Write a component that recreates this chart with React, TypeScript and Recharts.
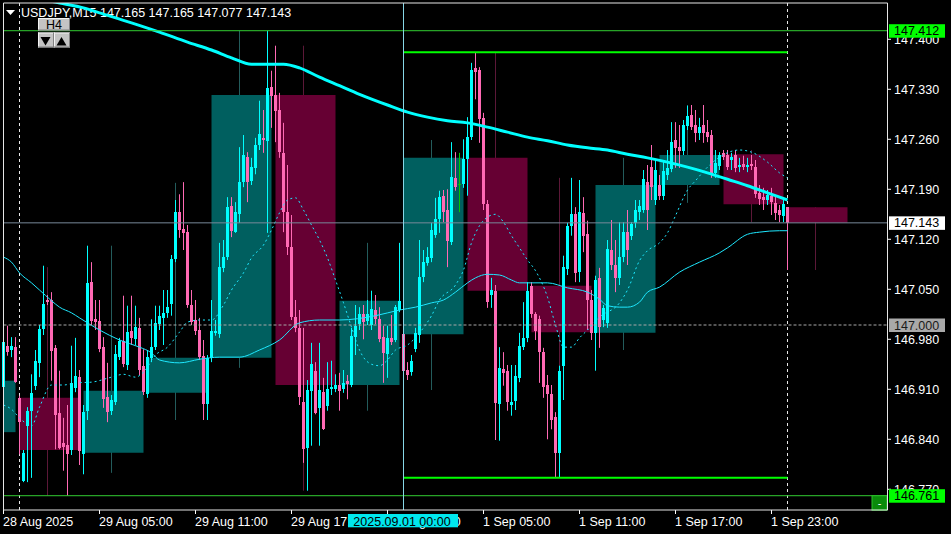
import React from 'react';
import { ComposedChart, Bar, Line, XAxis, YAxis, ReferenceArea, ReferenceLine } from 'recharts';

// M15 candles, bar 0 = 28 Aug 23:00 (broker time)
const opens = [
  146.913, 146.971, 146.965, 146.969, 146.898, 146.782, 146.859, 146.880, 146.915, 146.947,
  146.994, 147.035, 147.035, 146.968, 146.877, 146.835, 146.832, 146.825, 146.912, 146.927,
  146.819, 146.880, 147.060, 147.008, 147.006, 146.969, 146.899, 146.880, 146.892, 146.955,
  146.978, 146.944, 146.992, 146.980, 146.996, 146.943, 146.903, 146.954, 146.969, 147.001,
  147.010, 147.017, 147.029, 147.092, 147.158, 147.134, 147.130, 147.028, 147.007, 146.993,
  146.957, 146.889, 146.954, 146.989, 146.987, 147.080, 147.095, 147.167, 147.130, 147.155,
  147.200, 147.235, 147.202, 147.220, 147.252, 147.262, 147.258, 147.333, 147.322, 147.301,
  147.241, 147.158, 147.109, 147.011, 146.996, 146.892, 146.828, 146.908, 146.936, 146.884,
  146.906, 146.887, 146.910, 146.910, 146.916, 146.910, 146.922, 146.916, 146.983, 147.001,
  147.015, 147.006, 147.000, 147.021, 147.008, 146.983, 146.959, 146.982, 146.979, 147.021,
  146.987, 146.937, 146.934, 146.966, 146.986, 147.067, 147.087, 147.094, 147.126, 147.148,
  147.181, 147.161, 147.116, 147.206, 147.197, 147.197, 147.232, 147.263, 147.360, 147.357,
  147.290, 147.169, 147.042, 147.048, 146.889, 146.938, 146.936, 146.888, 146.894, 146.926,
  146.969, 146.982, 147.055, 147.015, 147.008, 146.962, 146.916, 146.903, 146.871, 146.821,
  146.943, 147.078, 147.139, 147.155, 147.074, 147.157, 147.127, 147.035, 146.989, 147.066,
  147.007, 147.003, 147.105, 147.084, 147.066, 147.095, 147.130, 147.125, 147.143, 147.158,
  147.161, 147.200, 147.221, 147.175, 147.196, 147.181, 147.210, 147.218, 147.259, 147.249,
  147.244, 147.279, 147.294, 147.280, 147.269, 147.280, 147.270, 147.266, 147.213, 147.223,
  147.241, 147.238, 147.231, 147.238, 147.221, 147.225, 147.221, 147.225, 147.221, 147.185,
  147.179, 147.175, 147.181, 147.171, 147.161, 147.153, 147.165,
];
const highs = [
  146.982, 146.999, 146.983, 146.983, 146.901, 146.825, 146.885, 146.931, 146.965, 147.000,
  147.083, 147.042, 147.046, 146.972, 146.936, 146.870, 146.888, 146.971, 146.982, 146.937,
  146.888, 147.111, 147.088, 147.035, 147.035, 146.983, 146.947, 146.902, 146.972, 146.982,
  147.041, 147.027, 147.041, 147.027, 147.010, 146.966, 146.965, 147.008, 147.027, 147.027,
  147.049, 147.049, 147.098, 147.175, 147.183, 147.200, 147.140, 147.049, 147.035, 147.010,
  146.979, 146.958, 147.035, 147.007, 147.115, 147.119, 147.179, 147.179, 147.172, 147.249,
  147.266, 147.242, 147.234, 147.262, 147.314, 147.301, 147.412, 147.356, 147.391, 147.325,
  147.283, 147.224, 147.154, 147.035, 147.021, 146.996, 146.923, 146.975, 146.948, 146.975,
  146.926, 146.948, 146.950, 146.931, 146.933, 146.937, 146.930, 146.996, 147.028, 147.025,
  147.028, 147.035, 147.048, 147.042, 147.025, 146.999, 146.999, 147.014, 147.028, 147.115,
  146.993, 146.948, 146.958, 146.996, 147.119, 147.105, 147.109, 147.143, 147.178, 147.188,
  147.189, 147.190, 147.256, 147.242, 147.241, 147.260, 147.291, 147.367, 147.382, 147.361,
  147.297, 147.175, 147.066, 147.056, 146.969, 146.962, 146.944, 146.944, 146.944, 146.989,
  147.032, 147.060, 147.060, 147.018, 147.013, 146.968, 146.930, 146.916, 146.878, 146.943,
  147.097, 147.143, 147.206, 147.165, 147.203, 147.179, 147.146, 147.049, 147.069, 147.080,
  147.028, 147.119, 147.147, 147.119, 147.144, 147.144, 147.161, 147.144, 147.175, 147.175,
  147.217, 147.224, 147.252, 147.231, 147.210, 147.231, 147.245, 147.284, 147.284, 147.280,
  147.287, 147.307, 147.308, 147.301, 147.290, 147.308, 147.287, 147.273, 147.245, 147.242,
  147.245, 147.245, 147.241, 147.245, 147.234, 147.237, 147.234, 147.238, 147.231, 147.196,
  147.192, 147.189, 147.192, 147.181, 147.168, 147.175, 147.165,
];
const lows = [
  146.906, 146.957, 146.955, 146.919, 146.819, 146.780, 146.780, 146.786, 146.909, 146.927,
  146.986, 147.028, 146.922, 146.826, 146.826, 146.796, 146.761, 146.818, 146.906, 146.804,
  146.791, 146.867, 147.000, 146.993, 146.962, 146.884, 146.864, 146.874, 146.888, 146.951,
  146.941, 146.937, 146.972, 146.972, 146.930, 146.902, 146.898, 146.948, 146.965, 146.993,
  146.972, 147.010, 147.013, 147.088, 147.122, 147.105, 147.024, 147.000, 146.986, 146.951,
  146.867, 146.867, 146.948, 146.985, 146.982, 147.074, 147.091, 147.123, 147.129, 147.143,
  147.193, 147.172, 147.196, 147.211, 147.245, 147.241, 147.129, 147.276, 147.256, 147.234,
  147.130, 147.098, 147.007, 146.990, 146.888, 146.807, 146.768, 146.831, 146.875, 146.831,
  146.853, 146.880, 146.902, 146.906, 146.880, 146.905, 146.896, 146.913, 146.958, 146.993,
  146.980, 147.000, 146.993, 147.001, 146.976, 146.919, 146.926, 146.972, 146.976, 147.018,
  146.909, 146.923, 146.929, 146.962, 146.975, 147.060, 147.083, 147.088, 147.122, 147.129,
  147.144, 147.081, 147.112, 147.188, 147.158, 147.192, 147.181, 147.259, 147.316, 147.255,
  147.161, 147.024, 147.024, 146.839, 146.838, 146.915, 146.880, 146.873, 146.881, 146.920,
  146.965, 146.976, 147.010, 146.979, 146.919, 146.898, 146.840, 146.854, 146.786, 146.787,
  146.895, 147.070, 147.125, 147.060, 147.060, 147.102, 146.993, 146.979, 146.936, 146.968,
  146.997, 146.996, 147.077, 147.046, 147.056, 147.088, 147.084, 147.119, 147.136, 147.147,
  147.157, 147.133, 147.175, 147.168, 147.175, 147.175, 147.203, 147.214, 147.220, 147.220,
  147.238, 147.273, 147.273, 147.256, 147.259, 147.255, 147.256, 147.206, 147.206, 147.217,
  147.231, 147.217, 147.217, 147.214, 147.214, 147.217, 147.214, 147.217, 147.178, 147.168,
  147.161, 147.168, 147.154, 147.147, 147.144, 147.144, 147.077,
];
const closes = [
  146.976, 146.962, 146.971, 146.920, 146.864, 146.821, 146.880, 146.905, 146.950, 146.994,
  147.029, 147.032, 146.964, 146.874, 146.828, 146.829, 146.819, 146.919, 146.929, 146.824,
  146.878, 147.059, 147.006, 147.004, 146.966, 146.896, 146.878, 146.895, 146.959, 146.978,
  146.945, 146.990, 146.982, 146.997, 146.937, 146.906, 146.955, 146.969, 147.003, 147.013,
  147.017, 147.025, 147.092, 147.158, 147.133, 147.129, 147.028, 147.004, 146.992, 146.955,
  146.889, 146.954, 146.992, 146.992, 147.081, 147.095, 147.165, 147.132, 147.158, 147.200,
  147.238, 147.200, 147.221, 147.252, 147.267, 147.259, 147.332, 147.321, 147.300, 147.242,
  147.158, 147.109, 147.011, 146.996, 146.899, 146.826, 146.909, 146.945, 146.877, 146.909,
  146.854, 146.910, 146.913, 146.916, 146.908, 146.919, 146.917, 146.985, 146.999, 147.015,
  147.004, 147.015, 147.022, 147.008, 146.980, 146.961, 146.982, 146.976, 147.025, 147.034,
  146.936, 146.930, 146.950, 146.989, 147.067, 147.088, 147.095, 147.133, 147.148, 147.179,
  147.158, 147.118, 147.207, 147.193, 147.197, 147.232, 147.263, 147.357, 147.354, 147.288,
  147.169, 147.032, 147.049, 146.891, 146.940, 146.933, 146.892, 146.892, 146.929, 146.971,
  146.982, 147.048, 147.015, 146.992, 146.962, 146.913, 146.903, 146.867, 146.821, 146.936,
  147.081, 147.139, 147.155, 147.073, 147.158, 147.125, 147.035, 146.989, 147.063, 146.997,
  147.024, 147.106, 147.084, 147.066, 147.095, 147.130, 147.105, 147.141, 147.161, 147.167,
  147.204, 147.161, 147.193, 147.217, 147.181, 147.216, 147.220, 147.256, 147.248, 147.244,
  147.280, 147.293, 147.277, 147.269, 147.277, 147.269, 147.263, 147.213, 147.227, 147.238,
  147.235, 147.221, 147.235, 147.220, 147.224, 147.221, 147.224, 147.223, 147.183, 147.176,
  147.175, 147.182, 147.172, 147.157, 147.154, 147.169, 147.143,
];

// moving averages (bar index / price)
const maSlowIdx = [0, 13, 20, 24, 32, 39, 46, 52, 57, 62, 66, 70, 74, 79, 84, 89, 96, 101, 106, 111, 116, 121, 126, 131, 136, 141, 146, 151, 156, 161, 166, 171, 176, 181, 186, 191, 196];
const maSlowVal = [147.469, 147.452, 147.444, 147.437, 147.423, 147.410, 147.396, 147.385, 147.374, 147.365, 147.365, 147.365, 147.360, 147.347, 147.335, 147.323, 147.308, 147.298, 147.291, 147.286, 147.283, 147.277, 147.270, 147.263, 147.258, 147.252, 147.248, 147.245, 147.239, 147.234, 147.228, 147.221, 147.213, 147.204, 147.195, 147.185, 147.175];

const maMidIdx = [0, 2, 4, 7, 9, 12, 14, 17, 19, 24, 29, 34, 37, 39, 44, 49, 54, 59, 64, 69, 74, 79, 84, 93, 99, 103, 107, 110, 113, 116, 118, 121, 124, 127, 129, 132, 136, 141, 146, 149, 151, 154, 156, 159, 161, 164, 169, 174, 179, 181, 186, 189, 194, 196];
const maMidVal = [147.095, 147.088, 147.073, 147.059, 147.049, 147.034, 147.025, 147.017, 147.010, 146.993, 146.979, 146.969, 146.961, 146.951, 146.947, 146.952, 146.955, 146.955, 146.965, 146.979, 147.003, 147.007, 147.007, 147.013, 147.021, 147.025, 147.031, 147.035, 147.046, 147.059, 147.066, 147.071, 147.070, 147.063, 147.059, 147.059, 147.059, 147.052, 147.046, 147.036, 147.027, 147.025, 147.025, 147.032, 147.046, 147.053, 147.074, 147.088, 147.101, 147.108, 147.127, 147.130, 147.132, 147.132];

const maFastIdx = [0, 2, 4, 7, 9, 12, 15, 18, 22, 27, 30, 33, 35, 38, 41, 44, 46, 49, 52, 55, 57, 60, 62, 65, 67, 69, 71, 73, 75, 77, 79, 81, 83, 85, 87, 89, 92, 94, 96, 98, 101, 104, 107, 109, 113, 115, 117, 119, 121, 123, 125, 127, 129, 131, 133, 136, 138, 140, 142, 144, 146, 149, 154, 156, 159, 161, 164, 166, 168, 171, 173, 176, 179, 184, 187, 191, 194, 196];
const maFastVal = [146.888, 146.882, 146.870, 146.859, 146.885, 146.916, 146.916, 146.919, 146.920, 146.927, 146.931, 146.927, 146.934, 146.958, 146.969, 146.990, 147.004, 147.007, 147.007, 147.028, 147.049, 147.073, 147.094, 147.112, 147.133, 147.157, 147.175, 147.178, 147.161, 147.140, 147.119, 147.094, 147.063, 147.031, 146.997, 146.965, 146.945, 146.943, 146.951, 146.965, 146.972, 146.989, 147.013, 147.035, 147.056, 147.077, 147.115, 147.139, 147.151, 147.155, 147.144, 147.125, 147.108, 147.091, 147.076, 147.039, 147.000, 146.969, 146.969, 146.982, 146.993, 147.011, 147.031, 147.049, 147.090, 147.104, 147.115, 147.129, 147.153, 147.189, 147.202, 147.221, 147.235, 147.245, 147.242, 147.228, 147.213, 147.206];

// H4 candles drawn behind the M15 bars (first M15 bar index of each)
const h4Start = [-12, 4, 20, 36, 52, 68, 84, 100, 116, 132, 148, 164, 180, 196];
const h4Open = [146.850, 146.898, 146.821, 146.905, 146.954, 147.322, 146.916, 146.987, 147.234, 147.055, 146.989, 147.196, 147.239, 147.165];
const h4High = [146.990, 147.081, 147.111, 147.199, 147.412, 147.391, 147.115, 147.259, 147.382, 147.206, 147.234, 147.308, 147.245, 147.165];
const h4Low = [146.780, 146.761, 146.793, 146.867, 146.940, 146.768, 146.880, 146.909, 146.839, 146.786, 146.965, 147.171, 147.144, 147.077];
const h4Close = [146.922, 146.825, 146.908, 146.954, 147.322, 146.916, 147.034, 147.234, 147.048, 146.990, 147.196, 147.238, 147.169, 147.143];

const timeTickIdx = [0, 24, 48, 72, 96, 120, 144, 168, 192];
const timeTickLabels = ['28 Aug 2025', '29 Aug 05:00', '29 Aug 11:00', '29 Aug 17:00', '29 Aug 23:00', '1 Sep 05:00', '1 Sep 11:00', '1 Sep 17:00', '1 Sep 23:00'];
const priceTicks = [147.4, 147.33, 147.26, 147.19, 147.12, 147.05, 146.98, 146.91, 146.84, 146.77];

const titleText = 'USDJPY,M15 147.165 147.165 147.077 147.143';
const weekHigh = 147.412;
const weekLow = 146.761;
const dayHigh = 147.382;
const dayLow = 146.786;
const roundLevel = 147.0;
const lastPrice = 147.143;
const dayStartIdx = 100;
const dayEndIdx = 196;
const daySepIdx = [4, 196];
const vlineLabel = '2025.09.01 00:00';

const SLOTS = 222;
const Y_MIN = 146.741;
const Y_MAX = 147.4508;
const FONT = '"Liberation Sans", Arial, sans-serif';
const BULL = '#00ffff';
const BEAR = '#ff69b4';
const DOJI = '#00c800';

type Row = { i: number; o?: number; h?: number; l?: number; c?: number; maSlow?: number; maMid?: number; maFast?: number };
const rows: Row[] = Array.from({ length: SLOTS }, (_, i) => ({ i, o: opens[i], h: highs[i], l: lows[i], c: closes[i] }));
maSlowIdx.forEach((k, j) => { rows[k].maSlow = maSlowVal[j]; });
maMidIdx.forEach((k, j) => { rows[k].maMid = maMidVal[j]; });
maFastIdx.forEach((k, j) => { rows[k].maFast = maFastVal[j]; });

function Candle(props: any) {
  const { x, y, width, height, payload } = props;
  if (!payload || payload.h == null || !Number.isFinite(y) || !Number.isFinite(height)) return null;
  const { o, h, l, c } = payload;
  const k = h > l ? height / (h - l) : 0;
  const py = (v: number) => y + (h - v) * k;
  const color = c > o ? BULL : c < o ? BEAR : DOJI;
  const cx = Math.round(x + width / 2 - 0.5) + 0.5;
  const top = py(Math.max(o, c));
  const bot = py(Math.min(o, c));
  return (
    <g>
      <line x1={cx} x2={cx} y1={y} y2={y + height} stroke={color} strokeWidth={1} />
      <rect x={cx - 1.5} y={top} width={3} height={Math.max(1, bot - top)} fill={color} shapeRendering="crispEdges" />
    </g>
  );
}

// axis labels are drawn as reference-line labels so the price/time tags can sit on top of them
function PriceTickMark(props: any) {
  const { viewBox, value } = props;
  if (!viewBox) return null;
  const xr = viewBox.x + viewBox.width;
  const y = viewBox.y;
  return (
    <g>
      <line x1={xr} x2={xr + 3.5} y1={y} y2={y} stroke="#fff" />
      <text x={xr + 6.5} y={y + 4.5} fill="#fff" fontSize={12.5} fontFamily={FONT}>{value.toFixed(3)}</text>
    </g>
  );
}

function TimeTickMark(props: any) {
  const { viewBox, text } = props;
  if (!viewBox) return null;
  const x = viewBox.x;
  const bottom = viewBox.y + viewBox.height;
  return (
    <g>
      <line x1={x} x2={x} y1={bottom} y2={bottom + 4} stroke="#fff" />
      <text x={x - 0.5} y={bottom + 16} fill="#fff" fontSize={12.5} fontFamily={FONT}>{text}</text>
    </g>
  );
}

function PriceTag(props: any) {
  const { viewBox, text, bg, fg, closeBtn } = props;
  if (!viewBox) return null;
  const xr = viewBox.x + viewBox.width;
  const yy = viewBox.y;
  return (
    <g>
      {closeBtn && (
        <g>
          <rect x={xr - 15.5} y={yy} width={15} height={14.5} fill="#0a8a0a" stroke="#2cc22c" />
          <text x={xr - 8} y={yy + 11} textAnchor="middle" fill="#fff" fontSize={11} fontFamily={FONT}>-</text>
        </g>
      )}
      <rect x={xr + 1.5} y={yy - 6.5} width={56} height={13.5} fill={bg} />
      <text x={xr + 6.5} y={yy + 4.5} fill={fg} fontSize={12.5} fontFamily={FONT}>{text}</text>
    </g>
  );
}

function TimeTag(props: any) {
  const { viewBox, text } = props;
  if (!viewBox) return null;
  const bottom = viewBox.y + viewBox.height;
  return (
    <g>
      <rect x={viewBox.x - 55.5} y={bottom + 4} width={110} height={13.3} fill="#00e8ee" />
      <text x={viewBox.x - 1.5} y={bottom + 15.5} textAnchor="middle" fill="#000" fontSize={12.5} fontFamily={FONT}>{text}</text>
    </g>
  );
}

function Btn({ x, y, w, h }: { x: number; y: number; w: number; h: number }) {
  return (
    <g>
      <rect x={x} y={y} width={w} height={h} fill="#c4c4c4" />
      <line x1={x} x2={x + w} y1={y + 0.5} y2={y + 0.5} stroke="#f4f4f4" />
      <line x1={x + 0.5} x2={x + 0.5} y1={y} y2={y + h} stroke="#f4f4f4" />
      <line x1={x} x2={x + w} y1={y + h - 0.5} y2={y + h - 0.5} stroke="#808080" />
      <line x1={x + w - 0.5} x2={x + w - 0.5} y1={y} y2={y + h} stroke="#808080" />
    </g>
  );
}

export default function App() {
  const last = SLOTS - 1;
  return (
    <div style={{ position: 'relative', width: 951, height: 534, background: '#000', overflow: 'hidden' }}>
      <style>{'body{margin:0;background:#000}'}</style>
      <svg width={951} height={40} style={{ position: 'absolute', left: 0, top: 0 }}>
        <polygon points="6,10 15,10 10.5,15" fill="#fff" />
        <text x={21} y={17} fill="#fff" fontSize={12.5} fontFamily={FONT}>{titleText}</text>
      </svg>
      <ComposedChart
        width={951}
        height={534}
        data={rows}
        margin={{ top: 3, right: 0, bottom: 0, left: 1.5 }}
        style={{ position: 'absolute', left: 0, top: 0 }}
      >
        <XAxis xAxisId="cat" dataKey="i" type="category" height={24} axisLine={false} tickLine={false} tick={false} />
        <XAxis xAxisId="num" dataKey="i" type="number" domain={[-0.5, SLOTS - 0.5]} allowDataOverflow hide />
        <YAxis
          orientation="right"
          type="number"
          domain={[Y_MIN, Y_MAX]}
          allowDataOverflow
          width={61.5}
          axisLine={false}
          tickLine={false}
          tick={false}
        />

        {h4Start.map((s, j) => {
          const w = s + 7;
          if (w < 0) return null;
          const up = h4Close[j] >= h4Open[j];
          return (
            <ReferenceLine
              key={`w${j}`}
              xAxisId="num"
              segment={[{ x: w, y: h4High[j] }, { x: w, y: h4Low[j] }]}
              stroke={up ? '#235c5c' : '#5c1838'}
              strokeWidth={1}
              zIndex={100}
            />
          );
        })}
        {h4Start.map((s, j) => {
          const up = h4Close[j] >= h4Open[j];
          return (
            <ReferenceArea
              key={`b${j}`}
              xAxisId="num"
              x1={Math.max(0, s)}
              x2={Math.min(last, s + 15)}
              y1={h4Open[j]}
              y2={h4Close[j]}
              fill={up ? '#005f5f' : '#660033'}
              fillOpacity={1}
              stroke="none"
              ifOverflow="visible"
              zIndex={110}
            />
          );
        })}
        {daySepIdx.map((d) => (
          <ReferenceLine key={`d${d}`} xAxisId="num" x={d} stroke="#e8e8e8" strokeDasharray="3 3" zIndex={120} />
        ))}

        <Bar
          xAxisId="cat"
          dataKey={(d: Row) => (d.h == null ? null : [d.l, d.h])}
          shape={(p: any) => <Candle {...p} />}
          isAnimationActive={false}
          zIndex={300}
        />

        <Line xAxisId="cat" type="monotone" dataKey="maSlow" stroke="#00ffff" strokeWidth={3} dot={false} activeDot={false} connectNulls isAnimationActive={false} zIndex={400} />
        <Line xAxisId="cat" type="monotone" dataKey="maMid" stroke="#1ee8ff" strokeWidth={1} dot={false} activeDot={false} connectNulls isAnimationActive={false} zIndex={400} />
        <Line xAxisId="cat" type="monotone" dataKey="maFast" stroke="#1ee8ff" strokeWidth={1} strokeDasharray="2 3" dot={false} activeDot={false} connectNulls isAnimationActive={false} zIndex={400} />

        {priceTicks.map((t) => (
          <ReferenceLine
            key={`pt${t}`}
            xAxisId="num"
            segment={[{ x: 0, y: t }, { x: last, y: t }]}
            stroke="none"
            zIndex={440}
            label={<PriceTickMark value={t} />}
          />
        ))}
        {timeTickIdx.map((t, j) => (
          <ReferenceLine
            key={`tt${t}`}
            xAxisId="num"
            x={t}
            stroke="none"
            zIndex={440}
            label={<TimeTickMark text={timeTickLabels[j]} />}
          />
        ))}

        <ReferenceLine
          xAxisId="num"
          segment={[{ x: 0, y: roundLevel }, { x: last, y: roundLevel }]}
          stroke="#a8a8a8"
          strokeDasharray="3 2"
          zIndex={450}
          label={<PriceTag text={roundLevel.toFixed(3)} bg="#a9a9a9" fg="#1a1a1a" />}
        />
        <ReferenceLine
          xAxisId="num"
          segment={[{ x: 0, y: lastPrice }, { x: last, y: lastPrice }]}
          stroke="#778899"
          zIndex={450}
          label={<PriceTag text={lastPrice.toFixed(3)} bg="#ffffff" fg="#000" />}
        />
        <ReferenceLine
          xAxisId="num"
          segment={[{ x: 0, y: weekHigh }, { x: last, y: weekHigh }]}
          stroke="#32cd32"
          zIndex={450}
          label={<PriceTag text={weekHigh.toFixed(3)} bg="#00ff00" fg="#000" />}
        />
        <ReferenceLine
          xAxisId="num"
          segment={[{ x: 0, y: weekLow }, { x: last, y: weekLow }]}
          stroke="#32cd32"
          zIndex={450}
          label={<PriceTag text={weekLow.toFixed(3)} bg="#00ff00" fg="#000" closeBtn />}
        />
        <ReferenceLine
          xAxisId="num"
          segment={[{ x: dayStartIdx, y: dayHigh }, { x: dayEndIdx, y: dayHigh }]}
          stroke="#00ff00"
          strokeWidth={2}
          zIndex={450}
        />
        <ReferenceLine
          xAxisId="num"
          segment={[{ x: dayStartIdx, y: dayLow }, { x: dayEndIdx, y: dayLow }]}
          stroke="#00ff00"
          strokeWidth={2}
          zIndex={450}
        />
        <ReferenceLine
          xAxisId="num"
          x={dayStartIdx}
          stroke="#86d6e6"
          zIndex={450}
          label={<TimeTag text={vlineLabel} />}
        />
        <ReferenceArea
          xAxisId="num"
          x1={0}
          x2={last}
          y1={Y_MIN}
          y2={Y_MAX}
          fill="none"
          fillOpacity={0}
          stroke="#e6e6e6"
          strokeWidth={1}
          ifOverflow="visible"
          zIndex={460}
        />
      </ComposedChart>
      <svg width={951} height={60} style={{ position: 'absolute', left: 0, top: 0, pointerEvents: 'none' }}>
        <Btn x={38} y={18} w={32} h={12.5} />
        <text x={54} y={28.8} textAnchor="middle" fill="#000" fontSize={12.5} fontFamily={FONT}>H4</text>
        <Btn x={38} y={32.5} w={16} h={15} />
        <Btn x={54} y={32.5} w={16} h={15} />
        <polygon points="40.5,37 50.5,37 45.5,45.5" fill="#000" />
        <polygon points="56.5,45.5 66.5,45.5 61.5,37" fill="#000" />
      </svg>
    </div>
  );
}
